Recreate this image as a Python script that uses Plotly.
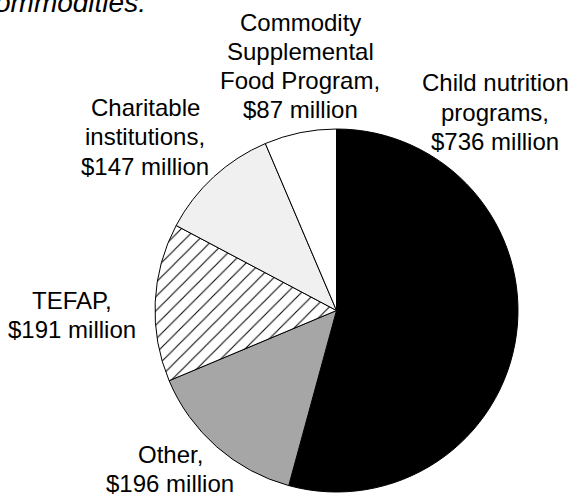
import plotly.graph_objects as go

categories = ["Child nutrition programs", "Other", "TEFAP", "Charitable institutions",
              "Commodity Supplemental Food Program"]
values = [736, 196, 191, 147, 87]
label_lines = [
    ["Child nutrition", "programs,", "$736 million"],
    ["Other,", "$196 million"],
    ["TEFAP,", "$191 million"],
    ["Charitable", "institutions,", "$147 million"],
    ["Commodity", "Supplemental", "Food Program,", "$87 million"],
]
# label block centers in pixel coordinates (x, y from top)
label_pos = [(495, 112), (170, 469), (72, 315), (145, 137), (300, 66)]
colors = ["#000000", "#a6a6a6", "#ffffff", "#f0f0f0", "#ffffff"]
shapes = ["", "", "/", "", ""]

W, H = 570, 496
cx, cy, r = 336.5, 310.5, 181.5
line_gap = 29.3

fig = go.Figure(go.Pie(
    labels=categories,
    values=values,
    sort=False,
    direction="clockwise",
    rotation=0,
    textinfo="none",
    hoverinfo="label+value",
    marker=dict(
        colors=colors,
        line=dict(color="#000000", width=1),
        pattern=dict(shape=shapes, fgcolor="#000000", bgcolor=colors, size=10, solidity=0.1),
    ),
    domain=dict(x=[(cx - r) / W, (cx + r) / W], y=[1 - (cy + r) / H, 1 - (cy - r) / H]),
    showlegend=False,
))

font = dict(family="Liberation Sans, Arial, sans-serif", size=24, color="#000000")
for lines, (px, py) in zip(label_lines, label_pos):
    n = len(lines)
    for i, line in enumerate(lines):
        ly = py + (i - (n - 1) / 2) * line_gap
        fig.add_annotation(text=line, x=px / W, y=1 - ly / H, xref="paper", yref="paper",
                           xanchor="center", yanchor="middle", showarrow=False, font=font)

fig.add_annotation(text="<i>commodities:</i>", x=148 / W, y=1 - 13 / H, xref="paper", yref="paper",
                   xanchor="right", yanchor="bottom", showarrow=False,
                   font=dict(family="Liberation Sans, Arial, sans-serif", size=28, color="#000000"),
                   yshift=-7)

fig.update_layout(width=W, height=H, margin=dict(l=0, r=0, t=0, b=0),
                  paper_bgcolor="#ffffff", plot_bgcolor="#ffffff")
fig.write_html("out.html")
